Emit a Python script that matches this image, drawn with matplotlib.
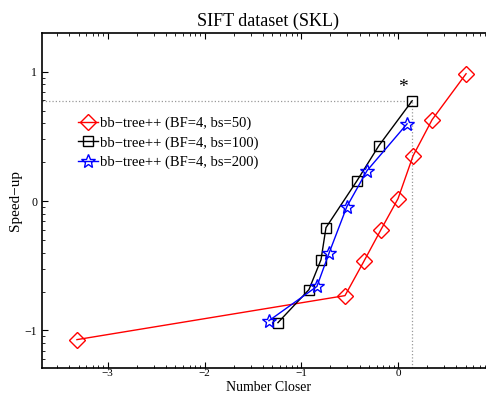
import numpy as np
import matplotlib
matplotlib.use("Agg")
import matplotlib.pyplot as plt
from matplotlib.ticker import LogLocator, FuncFormatter, NullFormatter

plt.rcParams['font.family'] = ['Liberation Serif', 'DejaVu Serif']

title = "SIFT dataset (SKL)"
xlabel = "Number Closer"
ylabel = "Speed\u2212up"

labels = ["bb\u2212tree++ (BF=4, bs=50)",
          "bb\u2212tree++ (BF=4, bs=100)",
          "bb\u2212tree++ (BF=4, bs=200)"]

red_x = [0.00048, 0.283, 0.445, 0.667, 1.0, 1.43, 2.25, 5.05]
red_y = [0.085, 0.186, 0.344, 0.603, 1.045, 2.24, 4.26, 9.66]

black_x = [0.0574, 0.120, 0.160, 0.180, 0.377, 0.635, 1.40]
black_y = [0.115, 0.207, 0.353, 0.624, 1.44, 2.69, 5.97]

blue_x = [0.0463, 0.145, 0.193, 0.296, 0.478, 1.24]
blue_y = [0.119, 0.219, 0.394, 0.908, 1.72, 3.96]

fig = plt.figure(figsize=(4.86, 3.94), dpi=100)
bottom_px = 26
ax = fig.add_axes([42/486, bottom_px/394, 452/486, (361 - bottom_px)/394])

ax.set_xscale('log')
ax.set_yscale('log')
xmin, xmax = 10**-3.68, 10**(0.93 + 6/96.67)
ymin, ymax = 10**-1.29, 10**1.30
ax.set_xlim(xmin, xmax)
ax.set_ylim(ymin, ymax)

# dotted reference lines at best black point
bx, by = black_x[-1], black_y[-1]
ax.plot([xmin, bx], [by, by], ls=':', color='0.6', lw=0.9, zorder=1)
ax.plot([bx, bx], [ymin, by], ls=':', color='0.6', lw=0.9, zorder=1)

ax.plot(red_x, red_y, color='red', lw=1.0, marker='D', markersize=8.5,
        markerfacecolor='none', markeredgecolor='red', markeredgewidth=1.0,
        label=labels[0], zorder=3)
ax.plot(black_x, black_y, color='black', lw=1.0, marker='s', markersize=7,
        markerfacecolor='none', markeredgecolor='black', markeredgewidth=1.0,
        label=labels[1], zorder=3)
ax.plot(blue_x, blue_y, color='blue', lw=1.0, marker='*', markersize=10,
        markerfacecolor='none', markeredgecolor='blue', markeredgewidth=1.0,
        label=labels[2], zorder=3)

ax.text(bx * 10**-0.1, by * 10**0.1, "*", fontsize=14, ha='center', va='center')

fmt = FuncFormatter(lambda v, p: str(int(round(np.log10(v)))).replace('-', '\u2212'))
for axis in (ax.xaxis, ax.yaxis):
    axis.set_major_locator(LogLocator(base=10, numticks=20))
    axis.set_minor_locator(LogLocator(base=10, subs=np.arange(2, 10), numticks=20))
    axis.set_major_formatter(fmt)
    axis.set_minor_formatter(NullFormatter())

ax.tick_params(which='both', direction='in', top=True, right=True, labelsize=8.5)
ax.tick_params(axis='x', which='major', pad=1, labelsize=8)
ax.tick_params(which='major', length=4, width=0.8)
ax.tick_params(which='minor', length=2, width=0.6)
for s in ax.spines.values():
    s.set_linewidth(1.2)

ax.set_title(title, fontsize=13, pad=5)
xl = ax.set_xlabel(xlabel, fontsize=10)
xl.set_verticalalignment('bottom')
ax.xaxis.set_label_coords(0.5, (0.2 - bottom_px) / (361 - bottom_px))
ax.set_ylabel(ylabel, fontsize=11, labelpad=2)

leg = ax.legend(loc='upper left', bbox_to_anchor=(30/452, 1 - 78/335), frameon=False,
                fontsize=10.5, handlelength=1.4, handletextpad=0.1, labelspacing=0.4,
                borderaxespad=0)

fig.savefig("out.png", dpi=100)
